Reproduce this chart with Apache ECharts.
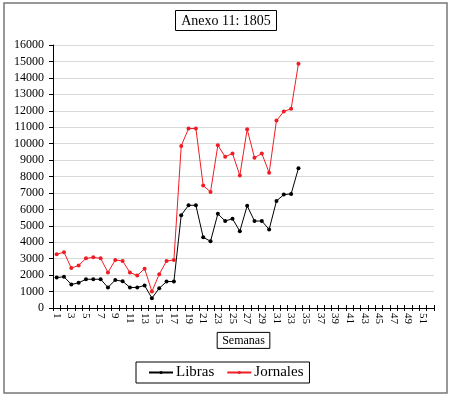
<!DOCTYPE html>
<html><head><meta charset="utf-8">
<script src="https://cdn.jsdelivr.net/npm/echarts@6/dist/echarts.min.js"></script>
<style>html,body{margin:0;padding:0;background:#fff}#c{width:452px;height:396px}</style>
</head><body><div id="c"></div>
<script>
const semanas = Array.from({length: 52}, (_, i) => String(i + 1));
const libras = [1850,1900,1430,1530,1750,1750,1750,1250,1700,1630,1250,1250,1370,600,1200,1610,1610,5650,6250,6250,4300,4060,5730,5290,5430,4670,6220,5290,5290,4780,6510,6900,6940,8500];
const jornales = [3270,3390,2430,2590,3020,3080,3020,2160,2920,2860,2160,1980,2390,1000,2060,2860,2920,9860,10920,10920,7445,7060,9900,9200,9400,8060,10880,9140,9400,8230,11400,11960,12120,14860];
const titleText = 'Anexo 11: 1805';
const xName = 'Semanas';
const font = 'Liberation Serif, Times New Roman, serif';
const red = '#f01c24';
const chart = echarts.init(document.getElementById('c'));
chart.setOption({
  animation: false,
  graphic: [{type:'rect', shape:{x:4, y:3, width:443, height:390}, style:{fill:'none', stroke:'#777', lineWidth:1.5}, silent:true}],
  title: {text: titleText, left: 'center', top: 10, padding:[4,6,3,6], borderColor:'#000', borderWidth:1,
    textStyle:{fontFamily:font, fontSize:14, fontWeight:'normal', color:'#000'}},
  legend: {top: 362, left: 136, borderColor:'#000', borderWidth:1, padding:[3,6,3,12], itemGap: 12, itemWidth: 24, itemHeight: 4,
    textStyle:{fontFamily:font, fontSize:15, color:'#000', padding:[0,0,0,-2]}, data:['Libras','Jornales']},
  grid: {left:53, right:18, top:45, bottom:88},
  xAxis: [{type:'category', data: semanas, boundaryGap:true,
    axisLine:{lineStyle:{color:'#000'}},
    axisTick:{show:true, interval:0, length:3, lineStyle:{color:'#000'}},
    axisLabel:{interval:1, rotate:-90, fontFamily:font, fontSize:11, color:'#000', margin:5},
    name: xName, nameLocation:'middle', nameGap:20,
    nameTextStyle:{fontFamily:font, fontSize:12, color:'#000', borderColor:'#000', borderWidth:1, padding:[2,5,2,5]}},
    {type:'category', data: semanas, boundaryGap:true, position:'bottom',
    axisLine:{show:false}, axisTick:{show:true, inside:true, interval:0, length:3, lineStyle:{color:'#000'}}, axisLabel:{show:false}}],
  yAxis: {type:'value', min:0, max:16000, interval:1000,
    axisLine:{show:true, lineStyle:{color:'#000'}},
    axisTick:{show:true, length:4, lineStyle:{color:'#000'}},
    axisLabel:{fontFamily:font, fontSize:12, color:'#000', margin:9, formatter: v => String(v)},
    splitLine:{lineStyle:{color:'#d9d9d9'}}},
  series: [
    {name:'Libras', type:'line', data: libras, symbol:'circle', symbolSize:4, color:'#000', lineStyle:{width:1, color:'#000'}, itemStyle:{color:'#000'}},
    {name:'Jornales', type:'line', data: jornales, symbol:'circle', symbolSize:4, color:red, lineStyle:{width:1, color:red}, itemStyle:{color:red}}
  ]
});
</script></body></html>
